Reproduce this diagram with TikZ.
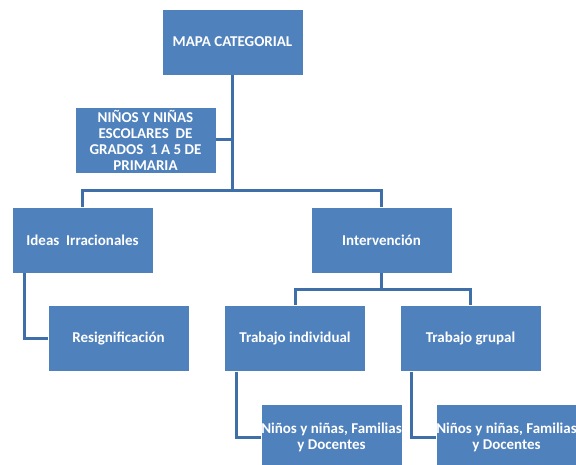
\documentclass[tikz,border=0pt]{standalone}
\usepackage{fontspec}
\setmainfont{Carlito}
\usetikzlibrary{positioning}
\begin{document}
\begin{tikzpicture}[x=1pt,y=-1pt,
  box/.style={rectangle,fill=boxblue,draw=white,line width=0.8pt,
    minimum width=141pt,minimum height=66pt,inner sep=0pt,align=center,
    text=white,font=\fontsize{15}{16}\selectfont\bfseries},
  link/.style={draw=linkblue,line width=3pt}]
\definecolor{boxblue}{HTML}{4F81BD} \definecolor{linkblue}{HTML}{3E6FA8}
\useasboundingbox (0,0) rectangle (576,465);
\node[box] (mapa) at (232.5,42) {MAPA CATEGORIAL};
\node[box] (ninos) at (145.5,140) {NIÑOS Y NIÑAS\\ESCOLARES\ \ DE\\GRADOS\ \ 1 A 5 DE\\PRIMARIA};
\node[box] (ideas) at (82.5,240) {Ideas\ \ Irracionales};
\node[box] (interv) at (381.5,240) {Intervención};
\node[box] (resig) at (118.5,338.5) {Resignificación};
\node[box] (tind) at (295,338.5) {Trabajo individual};
\node[box] (tgru) at (470.5,338.5) {Trabajo grupal};
\node[box] (fam1) at (331.5,437) {Niños y niñas, Familias\\y Docentes};
\node[box] (fam2) at (506.5,437) {Niños y niñas, Familias\\y Docentes};
\coordinate (split) at (232.5,191);
\coordinate (fork) at (381.5,290);
\draw[link] (mapa.south) -- (split);
\draw[link] (ninos.east) -- (mapa.south |- ninos.east);
\draw[link] (ideas.north) |- (split) -| (interv.north);
\draw[link] (interv.south) -- (fork);
\draw[link] (tind.north) |- (fork) -| (tgru.north);
\draw[link] ([xshift=13pt]ideas.south west) |- (resig.west);
\draw[link] ([xshift=12pt]tind.south west) |- (fam1.west);
\draw[link] ([xshift=12pt]tgru.south west) |- (fam2.west);
\end{tikzpicture}
\end{document}
